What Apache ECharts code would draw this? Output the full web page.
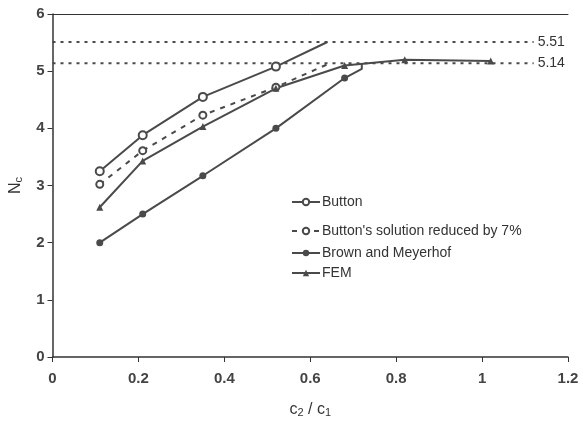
<!DOCTYPE html>
<html>
<head>
<meta charset="utf-8">
<script src="https://cdn.jsdelivr.net/npm/echarts@6/dist/echarts.min.js"></script>
<style>
  html, body { margin: 0; padding: 0; background: #fff; }
  #chart { width: 583px; height: 427px; }
</style>
</head>
<body>
<div id="chart"></div>
<script>
// values
var buttonX = [0.11, 0.21, 0.35, 0.52, 0.64];
var buttonY = [3.25, 3.88, 4.55, 5.08, 5.51];
var reducedY = [3.02, 3.61, 4.23, 4.72, 5.12];
var brownX = [0.11, 0.21, 0.35, 0.52, 0.68, 0.72, 0.72];
var brownY = [2.0, 2.5, 3.17, 4.0, 4.88, 5.04, 5.13];
var femX = [0.11, 0.21, 0.35, 0.52, 0.68, 0.82, 1.02];
var femY = [2.62, 3.43, 4.03, 4.7, 5.1, 5.2, 5.18];
var refValues = [5.51, 5.14];
var refEndX = 1.12;
var names = ['Button', "Button's solution reduced by 7%", 'Brown and Meyerhof', 'FEM'];

var ink = '#4a4a4a';
var font = 'Liberation Sans, Arial, sans-serif';

// points after `lastMarked` are drawn without a marker
function pairs(xs, ys, lastMarked) {
    return xs.map(function (x, i) {
        var item = { value: [x, ys[i]] };
        if (i > lastMarked) item.symbol = 'none';
        return item;
    });
}

var series = [
    {
        name: names[0], type: 'line',
        data: pairs(buttonX, buttonY, 3),
        symbol: 'emptyCircle', symbolSize: 8,
        lineStyle: { color: ink, width: 2 },
        itemStyle: { color: ink, borderWidth: 1.5 }
    },
    {
        name: names[1], type: 'line',
        data: pairs(buttonX, reducedY, 3),
        symbol: 'emptyCircle', symbolSize: 7,
        lineStyle: { color: ink, width: 2, type: [5, 6] },
        itemStyle: { color: ink, borderWidth: 1.5 }
    },
    {
        name: names[2], type: 'line',
        data: pairs(brownX, brownY, 4),
        symbol: 'circle', symbolSize: 7,
        lineStyle: { color: ink, width: 2 },
        itemStyle: { color: ink }
    },
    {
        name: names[3], type: 'line',
        data: pairs(femX, femY, 6),
        symbol: 'triangle', symbolSize: 7,
        lineStyle: { color: ink, width: 2 },
        itemStyle: { color: ink }
    }
];

refValues.forEach(function (v) {
    series.push({
        type: 'line',
        data: [[0, v], [refEndX, v]],
        symbol: 'none',
        silent: true,
        lineStyle: { color: ink, width: 2, type: [3, 5] },
        endLabel: {
            show: true,
            formatter: String(v),
            color: '#333',
            fontFamily: font,
            fontSize: 14,
            distance: 4
        }
    });
});

var legendTops = [190, 219, 241, 261];
var legends = names.map(function (n, i) {
    return {
        data: [n],
        left: 286,
        top: legendTops[i],
        itemWidth: 28,
        itemHeight: 8,
        textStyle: { color: '#333', fontFamily: font, fontSize: 14, padding: [0, 0, 0, -3] }
    };
});

var chart = echarts.init(document.getElementById('chart'));
chart.setOption({
    backgroundColor: '#fff',
    animation: false,
    legend: legends,
    grid: { left: 48, right: 15, top: 14, bottom: 70, containLabel: false },
    xAxis: [
        {
            type: 'value', min: 0, max: 1.2, interval: 0.2,
            name: '{i|c}{s|2}{i| / c}{s|1}',
            nameLocation: 'middle', nameGap: 44,
            nameTextStyle: {
                rich: {
                    i: { fontSize: 16, color: '#333', fontFamily: font },
                    s: { fontSize: 11, color: '#333', fontFamily: font, verticalAlign: 'bottom', padding: [6, 0, 0, 0] }
                }
            },
            axisLine: { lineStyle: { color: '#333', width: 1.5 } },
            axisTick: { show: true, length: 5, lineStyle: { color: '#333' } },
            axisLabel: {
                color: '#444', fontSize: 15, fontWeight: 'bold', fontFamily: font, margin: 14,
                formatter: function (v) { return String(Math.round(v * 10) / 10); }
            },
            splitLine: { show: false }
        },
        {
            type: 'value', min: 0, max: 1.2, position: 'top',
            axisLine: { show: true, lineStyle: { color: '#333', width: 1 } },
            axisTick: { show: false }, axisLabel: { show: false }, splitLine: { show: false }
        }
    ],
    yAxis: {
        type: 'value', min: 0, max: 6, interval: 1,
        name: '{i|N}{s|c}',
        nameLocation: 'middle', nameGap: 28, nameRotate: 90,
        nameTextStyle: {
            rich: {
                i: { fontSize: 16, color: '#333', fontFamily: font },
                s: { fontSize: 11, color: '#333', fontFamily: font, verticalAlign: 'bottom', padding: [6, 0, 0, 0] }
            }
        },
        axisLine: { show: true, lineStyle: { color: '#333', width: 1.5 } },
        axisTick: { show: true, length: 5, lineStyle: { color: '#333' } },
        axisLabel: { color: '#444', fontSize: 15, fontWeight: 'bold', fontFamily: font, margin: 8 },
        splitLine: { show: false }
    },
    series: series
});
</script>
</body>
</html>
